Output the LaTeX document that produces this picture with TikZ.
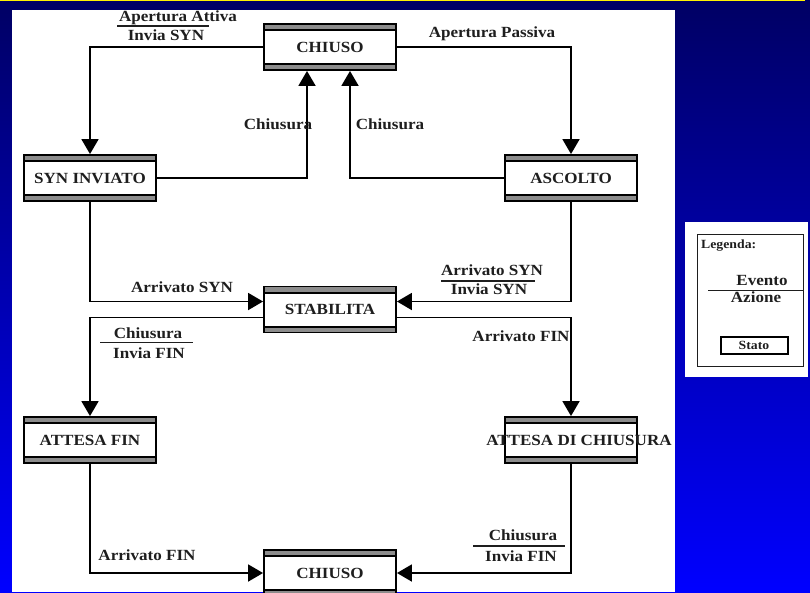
\documentclass[tikz,border=0pt]{standalone}
\usepackage{fontspec}
\setmainfont{Liberation Serif}[FakeStretch=1.1]
\usetikzlibrary{arrows.meta}
\newcommand\mainfs{\fontsize{15.5}{18}\selectfont\bfseries}
\newcommand\smallfs{\fontsize{12.5}{15}\selectfont\bfseries}
\definecolor{txt}{RGB}{30,30,30}
\definecolor{bandgray}{RGB}{140,140,140}
\definecolor{bgtop}{RGB}{0,0,100}
\definecolor{bgbot}{RGB}{0,0,255}
\begin{document}
\begin{tikzpicture}[x=1pt,y=-1pt,
  stt/.style={draw=black, line width=1.9pt, fill=white, minimum width=132pt, minimum height=46pt,
    inner sep=0pt, font=\mainfs, text=txt,
    path picture={
      \fill[bandgray] (path picture bounding box.north west) rectangle ([yshift=-5pt]path picture bounding box.north east);
      \fill[black] ([yshift=-5pt]path picture bounding box.north west) rectangle ([yshift=-7pt]path picture bounding box.north east);
      \fill[bandgray] (path picture bounding box.south west) rectangle ([yshift=5pt]path picture bounding box.south east);
      \fill[black] ([yshift=5pt]path picture bounding box.south west) rectangle ([yshift=7pt]path picture bounding box.south east);
    }},
  conn/.style={draw=black, line width=1.9pt, -{Triangle[length=15pt,width=17pt]}},
  lbl/.style={font=\mainfs, text=txt, inner sep=0pt, anchor=base},
  slbl/.style={font=\smallfs, text=txt, inner sep=0pt, anchor=base},
  frac/.style={draw=txt, line width=1.2pt}
]
\useasboundingbox (0,0) rectangle (810,592);
\shade[top color=bgtop, bottom color=bgbot] (0,0) rectangle (810,592);
\fill[yellow] (0,0) rectangle (805,1.4);
\fill[white] (12,9.5) rectangle (675,592);

% states
\node[stt] (chiuso1) at (330,47) {CHIUSO};
\node[stt] (syn) at (90,178) {SYN INVIATO};
\node[stt] (ascolto) at (571,178) {ASCOLTO};
\node[stt] (stab) at (330,309.5) {STABILITA};
\node[stt] (attfin) at (90,440) {ATTESA FIN};
\node[stt] (attchi) at (571,440) {\makebox[0pt]{\hspace*{16pt}ATTESA DI CHIUSURA}};
\node[stt] (chiuso2) at (330,573) {CHIUSO};

% connectors
\draw[conn] (chiuso1.west) -| (syn.north);
\draw[conn] (chiuso1.east) -| (ascolto.north);
\draw[conn] (syn.east) -| ([xshift=-23pt]chiuso1.south);
\draw[conn] (ascolto.west) -| ([xshift=20pt]chiuso1.south);
\draw[conn] (syn.south) |- ([yshift=8pt]stab.west);
\draw[conn] (ascolto.south) |- ([yshift=8pt]stab.east);
\draw[conn] ([yshift=-8pt]stab.west) -| (attfin.north);
\draw[conn] ([yshift=-8pt]stab.east) -| (attchi.north);
\draw[conn] (attfin.south) |- (chiuso2.west);
\draw[conn] (attchi.south) |- (chiuso2.east);

% labels
\node[lbl] (l1a) at (178,21) {Apertura Attiva};
\draw[frac] (117,26) -- (209,26);
\node[lbl] (l1b) at (166,40) {Invia SYN};
\node[lbl] (l2) at (492,37) {Apertura Passiva};
\node[lbl] (l3) at (278,129) {Chiusura};
\node[lbl] (l4) at (390,129) {Chiusura};
\node[lbl] (l5) at (182,292) {Arrivato SYN};
\node[lbl] (l6a) at (492,275) {Arrivato SYN};
\draw[frac] (441,281) -- (535,281);
\node[lbl] (l6b) at (489,294) {Invia SYN};
\node[lbl] (l7a) at (148,338) {Chiusura};
\draw[frac] (100,342.5) -- (193,342.5);
\node[lbl] (l7b) at (149,358) {Invia FIN};
\node[lbl] (l8) at (521,341) {Arrivato FIN};
\node[lbl] (l9) at (147,560) {Arrivato FIN};
\node[lbl] (l10a) at (523,540) {Chiusura};
\draw[frac] (473,546) -- (565,546);
\node[lbl] (l10b) at (521,561) {Invia FIN};

% legend
\fill[white] (685,222) rectangle (808,377);
\draw[txt, line width=0.9pt] (697.5,234.5) rectangle (803,366);
\node[slbl, anchor=base west] (lg) at (701,248) {Legenda:};
\node[lbl] (lev) at (762,285) {Evento};
\draw[frac] (708,290.5) -- (803,290.5);
\node[lbl] (laz) at (756,302) {Azione};
\node[draw=black, line width=2pt, minimum width=67pt, minimum height=17pt, inner sep=0pt, font=\smallfs, text=txt] (lst) at (754,345) {Stato};
\end{tikzpicture}
\end{document}
